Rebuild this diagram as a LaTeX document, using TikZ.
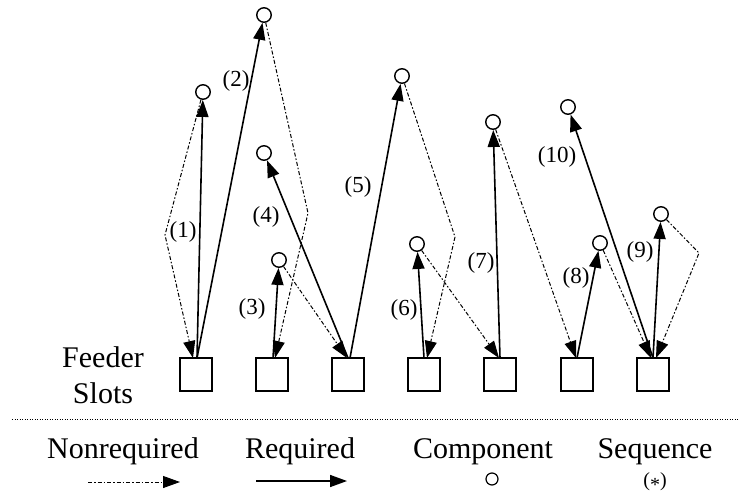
\documentclass[tikz,border=0pt]{standalone}
\usepackage{fontspec}
\setmainfont{Liberation Serif}
\usetikzlibrary{arrows.meta}
\tikzset{
  slot/.style={draw, line width=1.6pt, minimum width=32pt, minimum height=33pt, inner sep=0pt, outer sep=0pt},
  comp/.style={draw, circle, line width=1.4pt, minimum size=14.5pt, inner sep=0pt},
  legcomp/.style={draw, circle, line width=1.2pt, minimum size=12pt, inner sep=0pt},
  tip/.style={-{Triangle[length=17pt,width=12pt]}},
  req/.style={tip, line width=1.6pt},
  nreq/.style={tip, line width=1pt, dash pattern=on 4pt off 2pt on 1.5pt off 2pt},
  lbl/.style={font=\fontsize{23}{27}\selectfont, inner sep=0pt},
  big/.style={font=\fontsize{30}{36}\selectfont, inner sep=0pt, anchor=base},
  sep/.style={line width=1pt, dash pattern=on 1pt off 1.5pt}
}
\begin{document}
\begin{tikzpicture}[x=1pt, y=-1pt]
\useasboundingbox (0,0) rectangle (738,495);
% feeder slots
\node[slot] (s1) at (196,374.5) {};
\node[slot] (s2) at (272,374.5) {};
\node[slot] (s3) at (348,374.5) {};
\node[slot] (s4) at (424,374.5) {};
\node[slot] (s5) at (500,374.5) {};
\node[slot] (s6) at (577,374.5) {};
\node[slot] (s7) at (653,374.5) {};
% components
\node[comp] (c1) at (203,92) {};
\node[comp] (c2) at (264,15) {};
\node[comp] (c3) at (279,260) {};
\node[comp] (c4) at (264,153) {};
\node[comp] (c5) at (402,76) {};
\node[comp] (c6) at (417,244) {};
\node[comp] (c7) at (493,122) {};
\node[comp] (c8) at (600,243) {};
\node[comp] (c9) at (661,214) {};
\node[comp] (c10) at (568,107) {};
% kink points
\coordinate (k1) at (165,235);
\coordinate (k2) at (308,213);
\coordinate (k5) at (455,237);
\coordinate (k9) at (699,253);
% required moves
\draw[req] ([xshift=1pt]s1.north) -- (c1);
\draw[req] ([xshift=1pt]s1.north) -- (c2);
\draw[req] ([xshift=1pt]s2.north) -- (c3);
\draw[req] (s3.north) -- (c4);
\draw[req] ([xshift=2pt]s3.north) -- (c5);
\draw[req] (s4.north) -- (c6);
\draw[req] (s5.north) -- (c7);
\draw[req] (s6.north) -- (c8);
\draw[req] (s7.north) -- (c9);
\draw[req] (s7.north) -- (c10);
% nonrequired moves
\draw[nreq] (c1) -- (k1) -- ([xshift=-3pt]s1.north);
\draw[nreq] (c2) -- (k2) -- ([xshift=3pt]s2.north);
\draw[nreq] (c3) -- ([xshift=-1pt]s3.north);
\draw[nreq] (c5) -- (k5) -- ([xshift=3pt]s4.north);
\draw[nreq] (c6) -- ([xshift=-1pt]s5.north);
\draw[nreq] (c7) -- ([xshift=-1pt]s6.north);
\draw[nreq] (c8) -- ([xshift=-2pt]s7.north);
\draw[nreq] (c9) -- (k9) -- ([xshift=3pt]s7.north);
% sequence labels
\node[lbl] (l1) at (183,232) {(1)};
\node[lbl] (l2) at (236,81) {(2)};
\node[lbl] (l3) at (252,309) {(3)};
\node[lbl] (l4) at (266,217) {(4)};
\node[lbl] (l5) at (358,187) {(5)};
\node[lbl] (l6) at (404,310) {(6)};
\node[lbl] (l7) at (481,263) {(7)};
\node[lbl] (l8) at (576,278) {(8)};
\node[lbl] (l9) at (640,252) {(9)};
\node[lbl] (l10) at (557,157) {(10)};
% feeder slots caption
\node[big] (feeder) at (103,367) {Feeder};
\node[big] (slots) at (103,403) {Slots};
% separator
\coordinate (sepl) at (12,419);
\coordinate (sepr) at (738,419);
\draw[sep] (sepl) -- (sepr);
% legend
\node[big] (tnr) at (123,458) {Nonrequired};
\node[big] (treq) at (300,458) {Required};
\node[big] (tcomp) at (483,458) {Component};
\node[big] (tseq) at (655,458) {Sequence};
\coordinate (nra) at (88,482);
\coordinate (nrb) at (180,482);
\draw[nreq] (nra) -- (nrb);
\coordinate (rqa) at (256,481);
\coordinate (rqb) at (347,481);
\draw[req] (rqa) -- (rqb);
\node[legcomp] (lc) at (492,479) {};
\node[font=\fontsize{20}{24}\selectfont, inner sep=0pt] (lseq) at (655,482) {(\raisebox{-0.22em}{*})};
\end{tikzpicture}
\end{document}
